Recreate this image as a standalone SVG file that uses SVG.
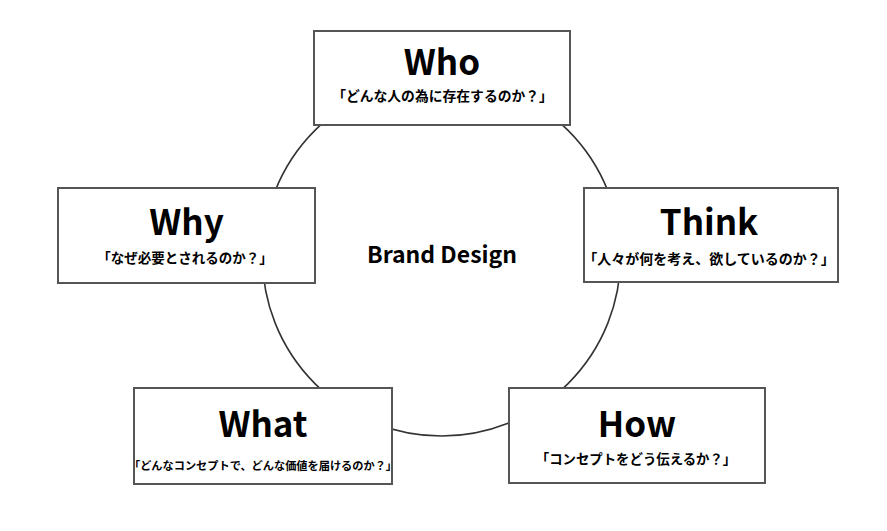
<svg xmlns="http://www.w3.org/2000/svg" width="887" height="531" viewBox="0 0 887 531">
<style>
.box{fill:#fff;stroke:#555;stroke-width:2}
.ring{fill:none;stroke:#333;stroke-width:1.6}
text{font-family:"Noto Sans CJK JP","Noto Sans",sans-serif;font-weight:bold;fill:#000;text-anchor:middle}
.title{font-size:35px}
.sub{font-size:13.5px}
.center{font-size:23px}
</style>
<rect width="887" height="531" fill="#fff"/>
<g id="connectors">
<circle class="ring" cx="441.5" cy="257" r="179"/>
</g>
<g id="center">
<text class="center" x="442" y="263">Brand Design</text>
</g>
<g id="who">
<rect class="box" x="314" y="31" width="256" height="94"/>
<text class="title" x="442" y="75">Who</text>
<text class="sub" x="442.5" y="101" style="font-size:13.8px">「どんな人の為に存在するのか？」</text>
</g>
<g id="why">
<rect class="box" x="58" y="188" width="257" height="95"/>
<text class="title" x="186.5" y="235">Why</text>
<text class="sub" x="185" y="263" style="font-size:13.5px">「なぜ必要とされるのか？」</text>
</g>
<g id="think">
<rect class="box" x="584" y="188" width="254" height="94"/>
<text class="title" x="709" y="235">Think</text>
<text class="sub" x="709" y="264" style="font-size:14px">「人々が何を考え、欲しているのか？」</text>
</g>
<g id="what">
<rect class="box" x="134" y="388" width="258" height="96"/>
<text class="title" x="263" y="437">What</text>
<text class="sub" x="263" y="470" style="font-size:11.2px">「どんなコンセプトで、どんな価値を届けるのか？」</text>
</g>
<g id="how">
<rect class="box" x="509" y="388" width="256" height="95"/>
<text class="title" x="637" y="437">How</text>
<text class="sub" x="636" y="464" style="font-size:13.4px">「コンセプトをどう伝えるか？」</text>
</g>
</svg>
